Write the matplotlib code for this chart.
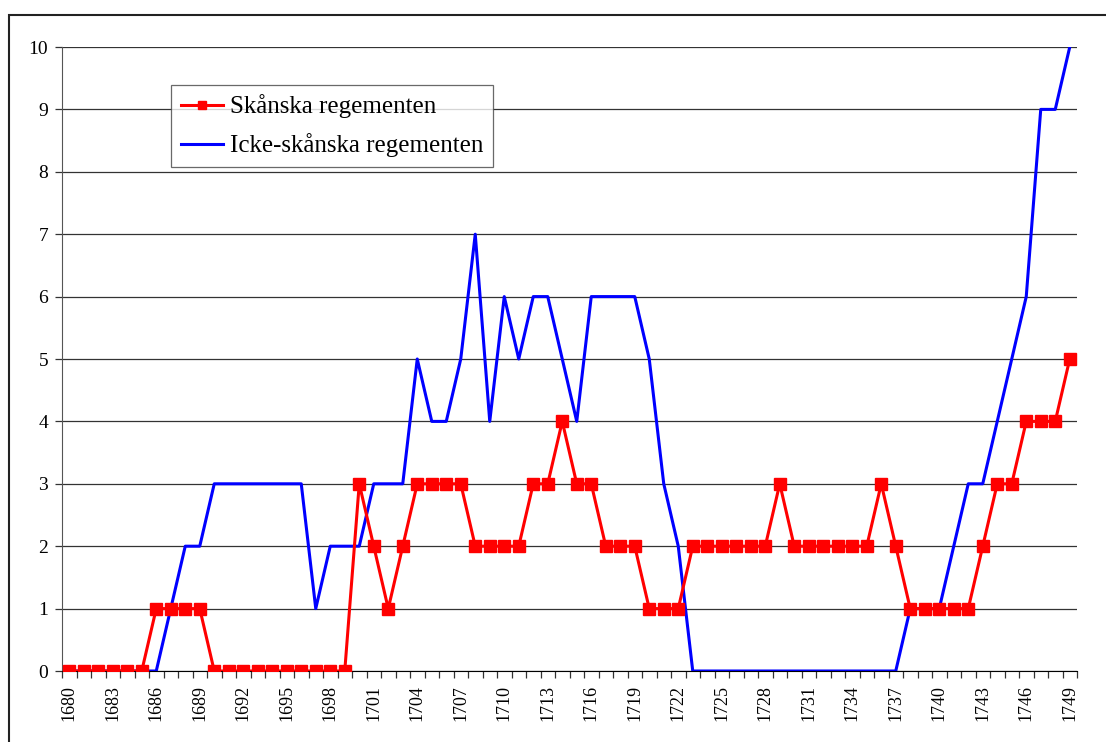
import numpy as np
import matplotlib
matplotlib.use('Agg')
from matplotlib import pyplot as plt
from matplotlib.patches import Rectangle

# Data
years = list(range(1680, 1750))
skanska = [0, 0, 0, 0, 0, 0, 1, 1, 1, 1,
           0, 0, 0, 0, 0, 0, 0, 0, 0, 0,
           3, 2, 1, 2, 3, 3, 3, 3, 2, 2,
           2, 2, 3, 3, 4, 3, 3, 2, 2, 2,
           1, 1, 1, 2, 2, 2, 2, 2, 2, 3,
           2, 2, 2, 2, 2, 2, 3, 2, 1, 1,
           1, 1, 1, 2, 3, 3, 4, 4, 4, 5]
icke_skanska = [0, 0, 0, 0, 0, 0, 0, 1, 2, 2,
                3, 3, 3, 3, 3, 3, 3, 1, 2, 2,
                2, 3, 3, 3, 5, 4, 4, 5, 7, 4,
                6, 5, 6, 6, 5, 4, 6, 6, 6, 6,
                5, 3, 2, 0, 0, 0, 0, 0, 0, 0,
                0, 0, 0, 0, 0, 0, 0, 0, 1, 1,
                1, 2, 3, 3, 4, 5, 6, 9, 9, 10]
labels = ['Skånska regementen', 'Icke-skånska regementen']

plt.rcParams['font.family'] = ['Liberation Serif', 'DejaVu Serif']

fig = plt.figure(figsize=(11.06, 7.42), dpi=100)
W, H = 1106, 742
ax = fig.add_axes([62 / W, 1 - 671 / H, (1077 - 62) / W, (671 - 47) / H])

# outer chart frame (runs off the right and bottom edges)
fig.patches.append(Rectangle((9 / W, -0.1), 1.2, 1 - 15 / H + 0.1,
                             transform=fig.transFigure, fill=False,
                             edgecolor='#222222', linewidth=1.5))

x = np.arange(len(years))
ax.plot(x, skanska, color='#ff0000', linewidth=2.2, marker='s',
        markersize=8.5, label=labels[0], zorder=3)
ax.plot(x, icke_skanska, color='#0000ff', linewidth=2.2, label=labels[1], zorder=2)

ax.set_xlim(-0.5, len(years) - 0.5)
ax.set_ylim(0, 10)
ax.set_yticks(range(0, 11))
ax.yaxis.grid(True, color='#333333', linewidth=0.9)
ax.set_axisbelow(True)

ax.set_xticks(x[::3])
ax.set_xticklabels([str(y) for y in years[::3]], rotation=90, fontsize=13)
ax.set_xticks(np.arange(-0.5, len(years), 1), minor=True)
ax.tick_params(axis='x', which='major', length=0, pad=10)
ax.tick_params(axis='x', which='minor', length=5, width=0.9, color='#333333')
ax.tick_params(axis='y', length=5, width=0.9, color='#333333', labelsize=14, pad=5)

for s in ['top', 'right']:
    ax.spines[s].set_visible(False)
ax.spines['left'].set_color('#555555')
ax.spines['bottom'].set_color('black')

leg = ax.legend(loc='upper left', bbox_to_anchor=((171 - 62) / (1077 - 62), (671 - 85) / (671 - 47)),
                fontsize=18, frameon=True, fancybox=False, edgecolor='#444444',
                borderpad=0.38, labelspacing=0.6, handlelength=1.7, handletextpad=0.3,
                borderaxespad=0, markerscale=0.75)
leg.get_frame().set_linewidth(0.9)

fig.savefig('out.png', dpi=100)
